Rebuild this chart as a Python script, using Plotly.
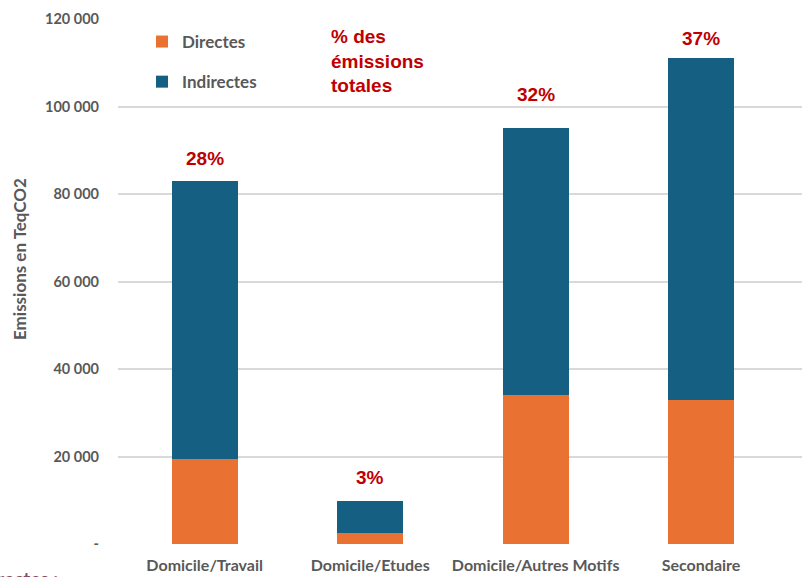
import plotly.graph_objects as go

# Emissions by trip purpose (tonnes CO2 equivalent)
categories = ["Domicile/Travail", "Domicile/Etudes", "Domicile/Autres Motifs", "Secondaire"]
directes = [19500, 2500, 34000, 33000]
indirectes = [63500, 7300, 61000, 78000]
y_ticks = [0, 20000, 40000, 60000, 80000, 100000, 120000]

totals = [d + i for d, i in zip(directes, indirectes)]
grand_total = sum(totals)
shares = [round(100 * t / grand_total) for t in totals]

# vertical offset (px) of each share label above its bar
label_offsets_px = [22, 24, 34, 20]

ORANGE = "#E97132"
BLUE = "#156082"
GREY = "#595959"
RED = "#C00000"
GRID = "#D9D9D9"

W, H = 802, 577
ML, MR, MT, MB = 118, 0, 19, 33
PW, PH = W - ML - MR, H - MT - MB


def px_x(p):
    return (p - ML) / PW


def px_y(p):
    return (H - MB - p) / PH


fig = go.Figure()
fig.add_trace(go.Bar(
    x=categories, y=directes, name="Directes", marker=dict(color=ORANGE, line=dict(width=0)),
    legendgroup="d",
))
fig.add_trace(go.Bar(
    x=categories, y=indirectes, name="Indirectes", marker=dict(color=BLUE, line=dict(width=0)),
    legendgroup="i",
))

tick_text = ["-" if v == 0 else f"{v:,}".replace(",", " ") for v in y_ticks]

annotations = []
for cat, tot, sh, off in zip(categories, totals, shares, label_offsets_px):
    annotations.append(dict(
        x=cat, y=tot, xref="x", yref="y", text=f"{sh}%", showarrow=False,
        yanchor="middle", yshift=off,
        font=dict(family="Liberation Sans, Arial", size=19, color=RED, weight="bold"),
    ))

annotations.append(dict(
    x=px_x(329), y=px_y(24), xref="paper", yref="paper", xanchor="left", yanchor="top",
    text="% des<br>émissions<br>totales", align="left", showarrow=False,
    font=dict(family="Liberation Sans, Arial", size=19, color=RED, weight="bold"),
))

annotations.append(dict(
    x=px_x(19), y=px_y(259), xref="paper", yref="paper", xanchor="center", yanchor="middle",
    text="Emissions en TeqCO2", textangle=-90, showarrow=False,
    font=dict(family="Lato", size=17, color=GREY, weight="bold"),
))

annotations.append(dict(
    x=px_x(60), y=px_y(565), xref="paper", yref="paper", xanchor="right", yanchor="top",
    text="Directes :", showarrow=False,
    font=dict(family="Lato", size=19, color="#8A4B5C", weight="bold"),
))

shapes = [dict(
    type="rect", xref="paper", yref="paper", layer="between",
    x0=px_x(310), x1=px_x(440), y0=px_y(112), y1=px_y(10),
    fillcolor="white", line=dict(width=0),
)]

fig.update_layout(
    width=W, height=H,
    margin=dict(l=ML, r=MR, t=MT, b=MB, pad=0),
    barmode="stack", bargap=0.6,
    plot_bgcolor="white", paper_bgcolor="white",
    font=dict(family="Lato", color=GREY),
    showlegend=True,
    legend=dict(
        x=px_x(142), y=px_y(24), xanchor="left", yanchor="top",
        traceorder="grouped", tracegroupgap=15,
        font=dict(family="Lato", size=17, color=GREY, weight="bold"),
        bgcolor="rgba(0,0,0,0)",
    ),
    xaxis=dict(
        range=[-0.524, 3.61], showgrid=False, showline=False, zeroline=False, ticks="",
        tickfont=dict(family="Lato", size=16, color=GREY, weight="bold"),
        ticklabelstandoff=10,
    ),
    yaxis=dict(
        range=[0, 120000], tickvals=y_ticks, ticktext=tick_text,
        showgrid=True, gridcolor=GRID, gridwidth=2, zeroline=False, showline=False, ticks="",
        tickfont=dict(family="Lato", size=14.5, color=GREY, weight="bold"),
        ticklabelstandoff=18,
    ),
    annotations=annotations,
    shapes=shapes,
)

fig.write_html("out.html")
